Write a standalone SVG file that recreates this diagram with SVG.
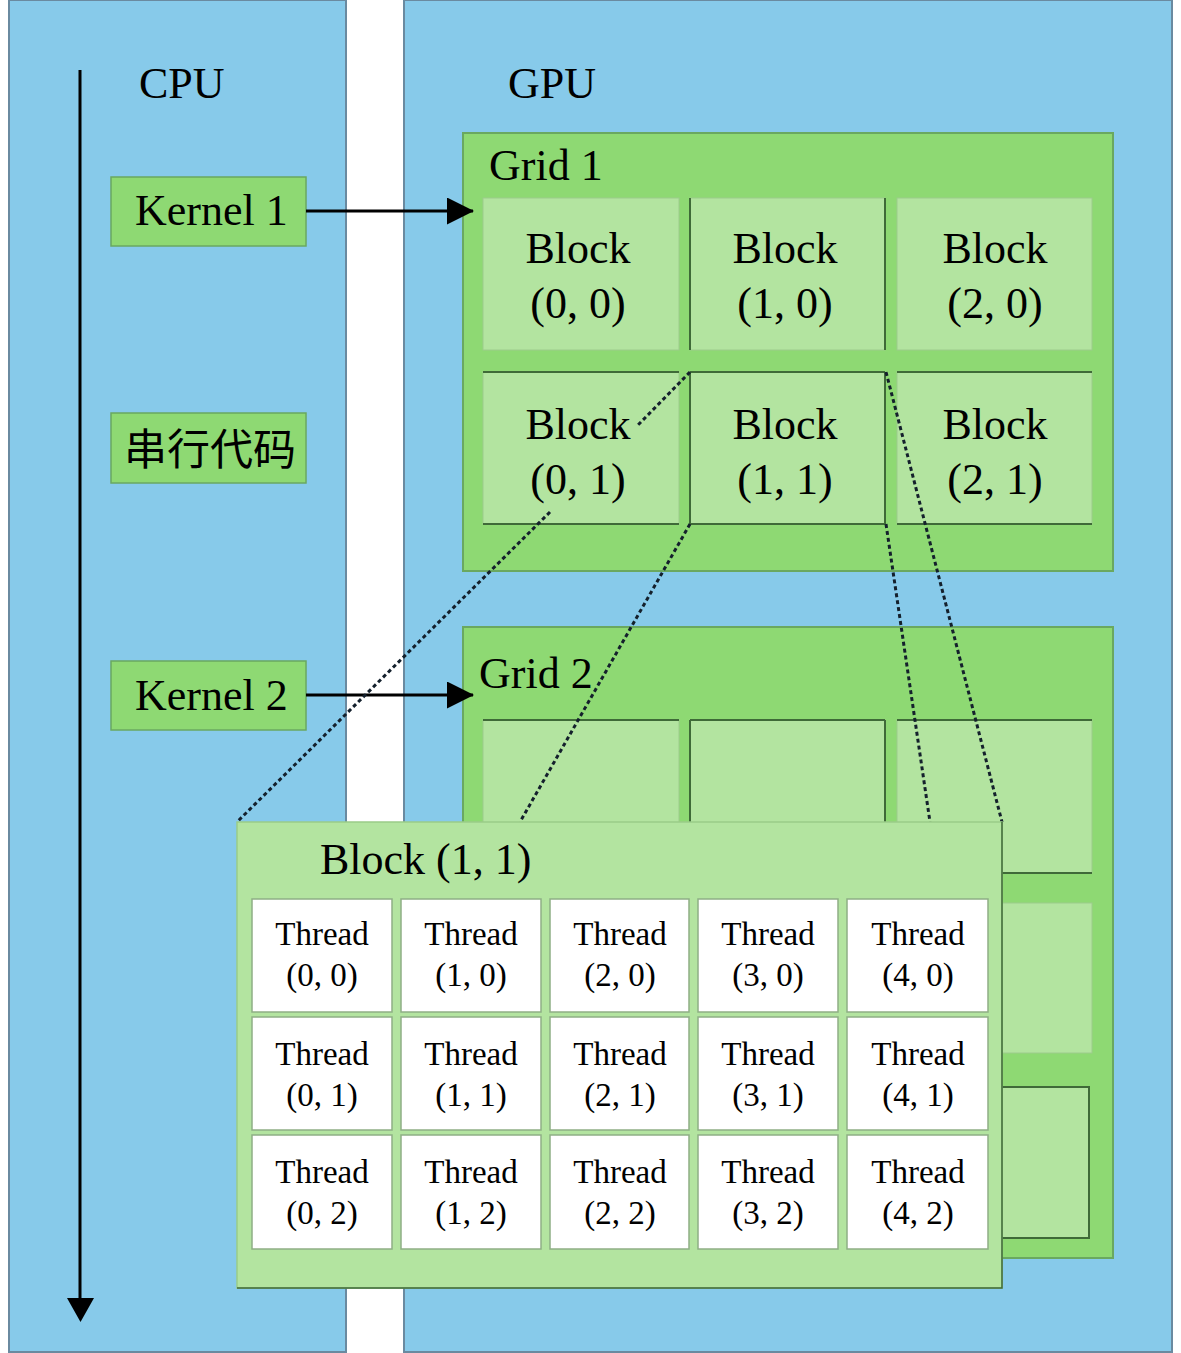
<svg xmlns="http://www.w3.org/2000/svg" width="1181" height="1353" viewBox="0 0 1181 1353">
<defs>
<style>
.panel{fill:#87CAEA;stroke:#6a8aa0;stroke-width:2}
.grid{fill:#8ED973;stroke:#6aa860;stroke-width:2}
.kbox{fill:#8ED973;stroke:#6aa860;stroke-width:1.5}
.blk{fill:#B3E4A0;stroke:#9ccc8c;stroke-width:1}
.edge{stroke:#3f6a38;stroke-width:2;fill:none}
.thr{fill:#ffffff;stroke:#8fae85;stroke-width:1.5}
.t{font-family:"Liberation Serif","Times New Roman",serif;fill:#000}
.big{font-size:44px}
.th{font-size:33px;text-anchor:middle}
.bk{font-size:44px;text-anchor:middle}
.cjk{font-family:"Liberation Serif","Noto Sans CJK SC",serif;font-size:43px;fill:#000}
.arrow{stroke:#000;stroke-width:3;fill:none}
.dot{stroke:#14202c;stroke-width:3;stroke-dasharray:4 3;fill:none}
</style>
<marker id="ah" markerWidth="27" markerHeight="27" refX="26" refY="13.5" orient="auto" markerUnits="userSpaceOnUse" viewBox="0 0 27 27">
<path d="M0,0 L27,13.5 L0,27 z" fill="#000"/>
</marker>
</defs>
<rect width="1181" height="1353" fill="#ffffff"/>

<g id="cpu">
<rect class="panel" x="9" y="0" width="337" height="1352"/>
<text class="t big" x="139" y="98">CPU</text>
</g>
<g id="gpu">
<rect class="panel" x="404" y="0" width="768" height="1352"/>
<text class="t big" x="508" y="98">GPU</text>
</g>

<g id="timeline">
<line class="arrow" x1="80" y1="70" x2="80" y2="1300"/>
<path d="M67,1298 L94,1298 L80.5,1322 z" fill="#000"/>
</g>

<g id="kernel1">
<rect class="kbox" x="111" y="177" width="195" height="69"/>
<text class="t big" x="135" y="225">Kernel 1</text>
</g>
<g id="serial">
<rect class="kbox" x="111" y="413" width="195" height="70"/>
<text class="cjk" x="124" y="465">串行代码</text>
</g>
<g id="kernel2">
<rect class="kbox" x="111" y="661" width="195" height="69"/>
<text class="t big" x="135" y="710">Kernel 2</text>
</g>

<g id="grid1">
<rect class="grid" x="463" y="133" width="650" height="438"/>
<text class="t big" x="489" y="180">Grid 1</text>
<g id="g1b00"><rect class="blk" x="483" y="198" width="196" height="152"/>
<text class="t bk" x="578" y="263">Block</text><text class="t bk" x="578" y="318">(0, 0)</text></g>
<g id="g1b10"><rect class="blk" x="690" y="198" width="195" height="152"/>
<path class="edge" d="M690,198 V350 M885,198 V350"/>
<text class="t bk" x="785" y="263">Block</text><text class="t bk" x="785" y="318">(1, 0)</text></g>
<g id="g1b20"><rect class="blk" x="897" y="198" width="195" height="152"/>
<text class="t bk" x="995" y="263">Block</text><text class="t bk" x="995" y="318">(2, 0)</text></g>
<g id="g1b01"><rect class="blk" x="483" y="372" width="196" height="152"/>
<path class="edge" d="M483,372 H679 M483,524 H679"/>
<text class="t bk" x="578" y="439">Block</text><text class="t bk" x="578" y="494">(0, 1)</text></g>
<g id="g1b11"><rect class="blk" x="690" y="372" width="195" height="152"/>
<path class="edge" d="M690,372 H885 M690,524 H885 M690,372 V524 M885,372 V524"/>
<text class="t bk" x="785" y="439">Block</text><text class="t bk" x="785" y="494">(1, 1)</text></g>
<g id="g1b21"><rect class="blk" x="897" y="372" width="195" height="152"/>
<path class="edge" d="M897,372 H1092 M897,524 H1092"/>
<text class="t bk" x="995" y="439">Block</text><text class="t bk" x="995" y="494">(2, 1)</text></g>
</g>

<g id="grid2">
<rect class="grid" x="463" y="627" width="650" height="631"/>
<text class="t big" x="479" y="688">Grid 2</text>
<g id="g2b00"><rect class="blk" x="483" y="720" width="196" height="153"/><path class="edge" d="M483,720 H679"/></g>
<g id="g2b10"><rect class="blk" x="690" y="720" width="195" height="153"/><path class="edge" d="M690,720 H885 M690,720 V873 M885,720 V873"/></g>
<g id="g2b20"><rect class="blk" x="897" y="720" width="195" height="153"/><path class="edge" d="M897,720 H1092 M897,873 H1092"/></g>
<g id="g2b21"><rect class="blk" x="897" y="903" width="195" height="150"/></g>
<g id="g2b22"><rect class="blk" x="897" y="1087" width="192" height="151"/><path class="edge" d="M897,1087 H1089 V1238 H897"/></g>
</g>

<g id="connectors">
<line class="arrow" x1="306" y1="211" x2="473" y2="211" marker-end="url(#ah)"/>
<line class="arrow" x1="306" y1="695" x2="473" y2="695" marker-end="url(#ah)"/>
<line class="dot" x1="690" y1="372" x2="638" y2="425"/>
<line class="dot" x1="550" y1="512" x2="237" y2="822"/>
<line class="dot" x1="690" y1="524" x2="520" y2="822"/>
<line class="dot" x1="886" y1="372" x2="1002" y2="822"/>
<line class="dot" x1="886" y1="524" x2="930" y2="822"/>
</g>

<g id="block11">
<rect x="237" y="822" width="765" height="466" fill="#B3E4A0" stroke="#9acc88" stroke-width="1.5"/>
<path d="M237,1288 H1002 V822" stroke="#3f6a38" stroke-width="1.5" fill="none"/>
<text class="t big" x="320" y="874">Block (1, 1)</text>
</g>

<g id="threads">
<g id="t00"><rect class="thr" x="252" y="899" width="140" height="113"/><text class="t th" x="322" y="945">Thread</text><text class="t th" x="322" y="986">(0, 0)</text></g>
<g id="t10"><rect class="thr" x="401" y="899" width="140" height="113"/><text class="t th" x="471" y="945">Thread</text><text class="t th" x="471" y="986">(1, 0)</text></g>
<g id="t20"><rect class="thr" x="550" y="899" width="139" height="113"/><text class="t th" x="620" y="945">Thread</text><text class="t th" x="620" y="986">(2, 0)</text></g>
<g id="t30"><rect class="thr" x="698" y="899" width="140" height="113"/><text class="t th" x="768" y="945">Thread</text><text class="t th" x="768" y="986">(3, 0)</text></g>
<g id="t40"><rect class="thr" x="847" y="899" width="141" height="113"/><text class="t th" x="918" y="945">Thread</text><text class="t th" x="918" y="986">(4, 0)</text></g>

<g id="t01"><rect class="thr" x="252" y="1017" width="140" height="113"/><text class="t th" x="322" y="1065">Thread</text><text class="t th" x="322" y="1106">(0, 1)</text></g>
<g id="t11"><rect class="thr" x="401" y="1017" width="140" height="113"/><text class="t th" x="471" y="1065">Thread</text><text class="t th" x="471" y="1106">(1, 1)</text></g>
<g id="t21"><rect class="thr" x="550" y="1017" width="139" height="113"/><text class="t th" x="620" y="1065">Thread</text><text class="t th" x="620" y="1106">(2, 1)</text></g>
<g id="t31"><rect class="thr" x="698" y="1017" width="140" height="113"/><text class="t th" x="768" y="1065">Thread</text><text class="t th" x="768" y="1106">(3, 1)</text></g>
<g id="t41"><rect class="thr" x="847" y="1017" width="141" height="113"/><text class="t th" x="918" y="1065">Thread</text><text class="t th" x="918" y="1106">(4, 1)</text></g>

<g id="t02"><rect class="thr" x="252" y="1135" width="140" height="114"/><text class="t th" x="322" y="1183">Thread</text><text class="t th" x="322" y="1224">(0, 2)</text></g>
<g id="t12"><rect class="thr" x="401" y="1135" width="140" height="114"/><text class="t th" x="471" y="1183">Thread</text><text class="t th" x="471" y="1224">(1, 2)</text></g>
<g id="t22"><rect class="thr" x="550" y="1135" width="139" height="114"/><text class="t th" x="620" y="1183">Thread</text><text class="t th" x="620" y="1224">(2, 2)</text></g>
<g id="t32"><rect class="thr" x="698" y="1135" width="140" height="114"/><text class="t th" x="768" y="1183">Thread</text><text class="t th" x="768" y="1224">(3, 2)</text></g>
<g id="t42"><rect class="thr" x="847" y="1135" width="141" height="114"/><text class="t th" x="918" y="1183">Thread</text><text class="t th" x="918" y="1224">(4, 2)</text></g>
</g>
</svg>
